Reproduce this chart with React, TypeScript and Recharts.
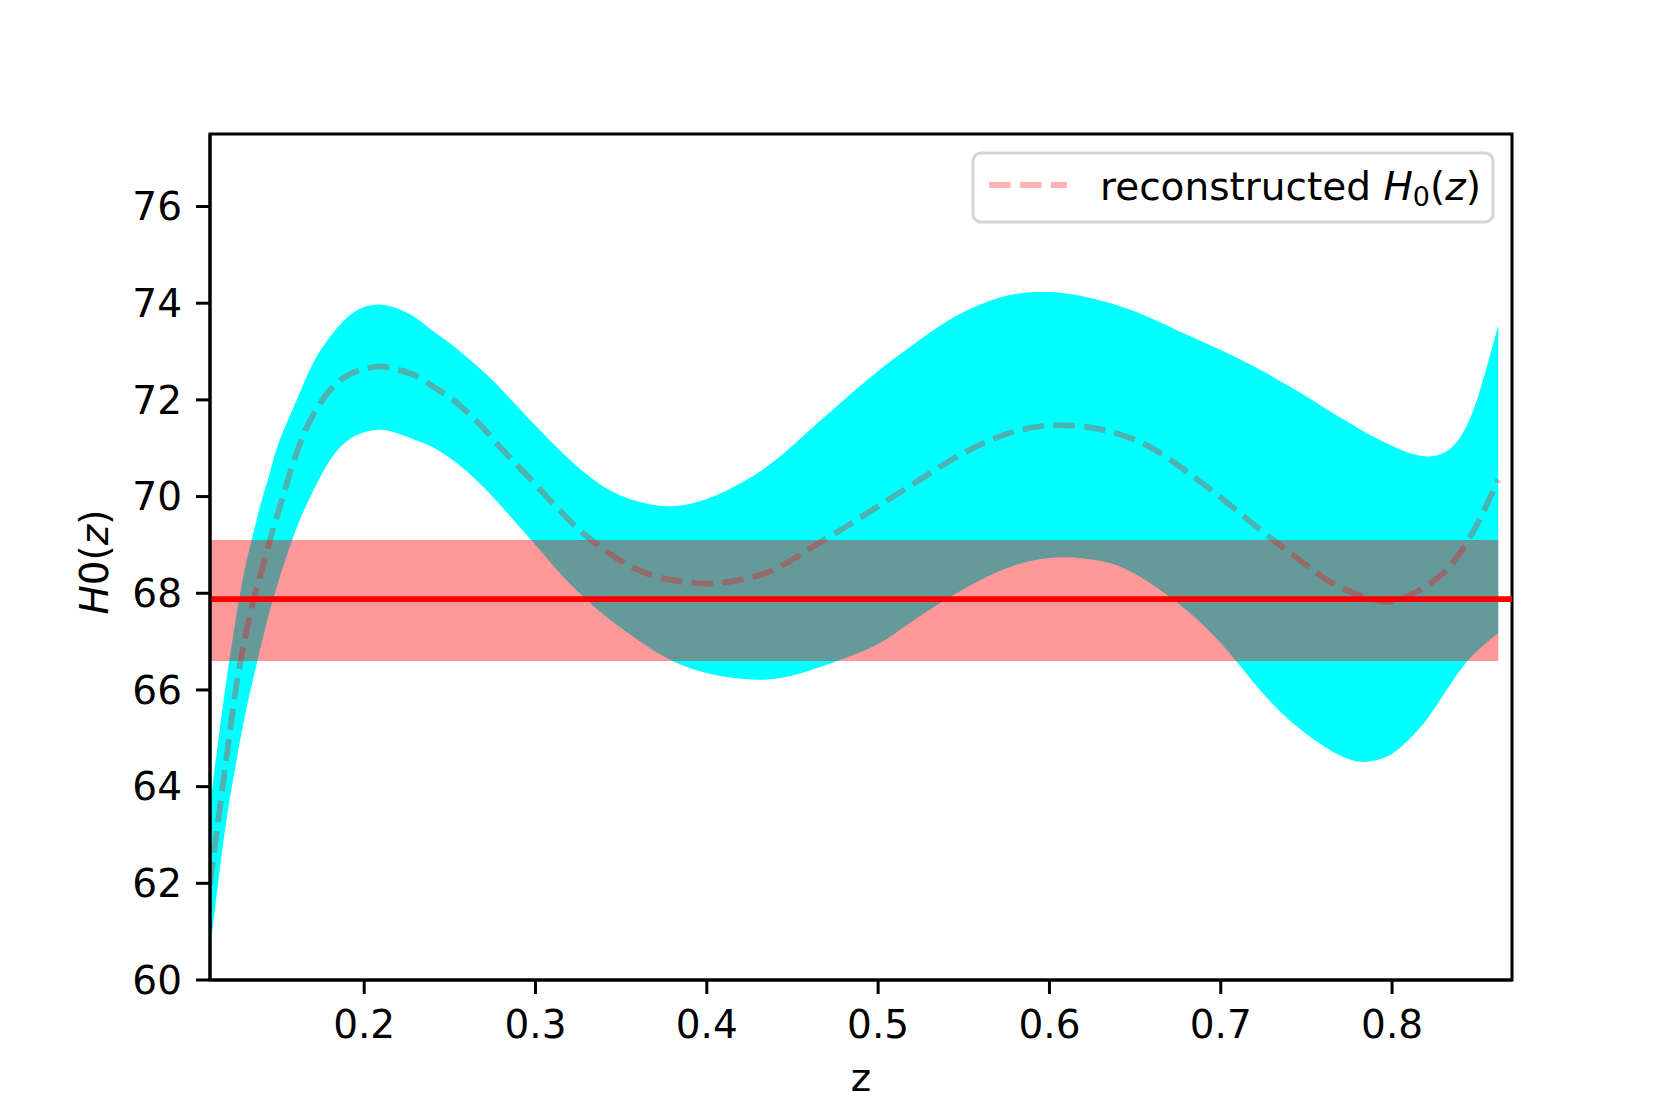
import React from "react";
import { ComposedChart, Area, Line, XAxis, YAxis, Label, ReferenceArea } from "recharts";

// redshift grid and the reconstructed H0(z) curves
const Z_VALUES = [
  0.11, 0.115, 0.12, 0.125, 0.13, 0.135, 0.14, 0.145, 0.15, 0.16, 0.17, 0.18,
  0.19, 0.2, 0.21, 0.22, 0.23, 0.24, 0.25, 0.26, 0.27, 0.28, 0.3, 0.32, 0.34,
  0.36, 0.38, 0.4, 0.42, 0.44, 0.46, 0.48, 0.5, 0.52, 0.54, 0.56, 0.58, 0.6,
  0.62, 0.64, 0.66, 0.68, 0.7, 0.72, 0.74, 0.76, 0.77, 0.78, 0.79, 0.8, 0.81,
  0.82, 0.83, 0.84, 0.85, 0.862,
];

const UPPER = [
  63.6, 65.0, 66.3, 67.45, 68.45, 69.2, 69.9, 70.5, 71.1, 71.95, 72.75, 73.3,
  73.7, 73.92, 73.97, 73.88, 73.7, 73.43, 73.17, 72.88, 72.57, 72.22, 71.47, 70.76,
  70.2, 69.9, 69.8, 69.95, 70.28, 70.75, 71.37, 72.0, 72.6, 73.13, 73.62,
  73.98, 74.19, 74.23, 74.14, 73.95, 73.68, 73.35, 73.03, 72.68, 72.28, 71.85,
  71.63, 71.42, 71.22, 71.05, 70.9, 70.83, 70.9, 71.24, 72.05, 73.55,
];

const MEAN = [
  62.0, 63.35, 64.7, 66.0, 67.0, 67.8, 68.45, 69.1, 69.7, 70.85, 71.68, 72.2,
  72.5, 72.64, 72.69, 72.62, 72.5, 72.28, 72.05, 71.75, 71.4, 71.0, 70.25, 69.5,
  68.9, 68.48, 68.27, 68.2, 68.28, 68.5, 68.92, 69.35, 69.8, 70.25, 70.7, 71.08,
  71.35, 71.47, 71.45, 71.3, 71.0, 70.52, 69.98, 69.4, 68.85, 68.32, 68.12,
  67.97, 67.87, 67.83, 67.95, 68.15, 68.42, 68.85, 69.45, 70.35,
];

const LOWER = [
  60.6, 62.1, 63.4, 64.45, 65.4, 66.2, 66.95, 67.65, 68.25, 69.3, 70.1, 70.75,
  71.15, 71.33, 71.38, 71.3, 71.17, 71.02, 70.8, 70.52, 70.18, 69.8, 69.0, 68.2,
  67.55, 67.03, 66.6, 66.35, 66.23, 66.23, 66.4, 66.65, 66.95, 67.42, 67.88, 68.28,
  68.58, 68.73, 68.72, 68.57, 68.18, 67.65, 66.97, 66.12, 65.38, 64.84, 64.64,
  64.52, 64.54, 64.68, 64.98, 65.38, 65.9, 66.42, 66.82, 67.18,
];

// constant H0 value and its band
const H0_LINE = 67.88;
const BAND_LOW = 66.6;
const BAND_HIGH = 69.1;

const X_DOMAIN = [0.11, 0.87];
const Y_DOMAIN = [60, 77.5];
const X_TICKS = [0.2, 0.3, 0.4, 0.5, 0.6, 0.7, 0.8];
const Y_TICKS = [60, 62, 64, 66, 68, 70, 72, 74, 76];

const FONT = "'DejaVu Sans', sans-serif";
const FS = 39;
const LW = 5.83;
const DASH = "21.6 9.3";

const rows = Z_VALUES.map((z, i) => ({
  z,
  range: [LOWER[i], UPPER[i]],
  band: [BAND_LOW, BAND_HIGH],
  mean: MEAN[i],
}));

const hlineRows = X_DOMAIN.map((z) => ({ z, h0: H0_LINE }));

const axisStyle = { stroke: "#000", strokeWidth: 3 };
const tickStyle = { fill: "#000", fontSize: FS, fontFamily: FONT };

const YLabel = () => (
  <text
    x={108}
    y={562}
    transform="rotate(-90, 108, 562)"
    textAnchor="middle"
    fontFamily={FONT}
    fontSize={FS}
    fill="#000"
  >
    <tspan fontStyle="italic">H</tspan>
    <tspan>0(</tspan>
    <tspan fontStyle="italic">z</tspan>
    <tspan>)</tspan>
  </text>
);

const XLabel = () => (
  <text x={861} y={1091} textAnchor="middle" fontFamily={FONT} fontSize={FS} fill="#000">
    z
  </text>
);

const LegendBox = () => (
  <svg
    width={530}
    height={80}
    style={{ position: "absolute", left: 968, top: 148, pointerEvents: "none" }}
  >
    <rect
      x={5}
      y={5}
      width={520}
      height={69}
      rx={8}
      ry={8}
      fill="#fff"
      fillOpacity={0.8}
      stroke="#d5d5d5"
      strokeWidth={3}
    />
    <line
      x1={21}
      y1={37}
      x2={99}
      y2={37}
      stroke="#ff0000"
      strokeOpacity={0.3}
      strokeWidth={LW}
      strokeDasharray={DASH}
    />
    <text x={132} y={52} fontFamily={FONT} fontSize={FS} fill="#000">
      <tspan>reconstructed </tspan>
      <tspan fontStyle="italic">H</tspan>
      <tspan fontSize={27} dy={6}>0</tspan>
      <tspan dy={-6}>(</tspan>
      <tspan fontStyle="italic">z</tspan>
      <tspan>)</tspan>
    </text>
  </svg>
);

export default function App() {
  return (
    <div
      style={{
        position: "absolute",
        left: 0,
        top: 0,
        width: 1680,
        height: 1120,
        background: "#fff",
      }}
    >
      <ComposedChart
        width={1680}
        height={1120}
        data={rows}
        margin={{ top: 134, right: 168, bottom: 0, left: 0 }}
      >
        <XAxis
          dataKey="z"
          type="number"
          domain={X_DOMAIN}
          ticks={X_TICKS}
          allowDataOverflow
          tickFormatter={(v: number) => v.toFixed(1)}
          tick={tickStyle}
          tickSize={14}
          tickMargin={16}
          axisLine={axisStyle}
          tickLine={axisStyle}
          height={140}
        >
          <Label content={<XLabel />} />
        </XAxis>
        <YAxis
          type="number"
          domain={Y_DOMAIN}
          ticks={Y_TICKS}
          allowDataOverflow
          tick={tickStyle}
          tickSize={14}
          tickMargin={14}
          axisLine={axisStyle}
          tickLine={axisStyle}
          width={210}
        >
          <Label content={<YLabel />} />
        </YAxis>
        <Area
          dataKey="range"
          type="natural"
          stroke="none"
          fill="#00ffff"
          fillOpacity={1}
          dot={false}
          activeDot={false}
          isAnimationActive={false}
        />
        <Area
          dataKey="band"
          type="linear"
          stroke="none"
          fill="#ff0000"
          fillOpacity={0.4}
          dot={false}
          activeDot={false}
          isAnimationActive={false}
        />
        <Line
          data={hlineRows}
          dataKey="h0"
          type="linear"
          stroke="#ff0000"
          strokeWidth={LW}
          dot={false}
          activeDot={false}
          isAnimationActive={false}
        />
        <Line
          dataKey="mean"
          type="natural"
          stroke="#ff0000"
          strokeOpacity={0.3}
          strokeWidth={LW}
          strokeDasharray={DASH}
          dot={false}
          activeDot={false}
          isAnimationActive={false}
        />
        {/* axes frame (top and right spines) */}
        <ReferenceArea
          x1={X_DOMAIN[0]}
          x2={X_DOMAIN[1]}
          y1={Y_DOMAIN[0]}
          y2={Y_DOMAIN[1]}
          fill="none"
          fillOpacity={0}
          stroke="#000"
          strokeWidth={3}
          strokeOpacity={1}
          ifOverflow="visible"
        />
      </ComposedChart>
      <LegendBox />
    </div>
  );
}
